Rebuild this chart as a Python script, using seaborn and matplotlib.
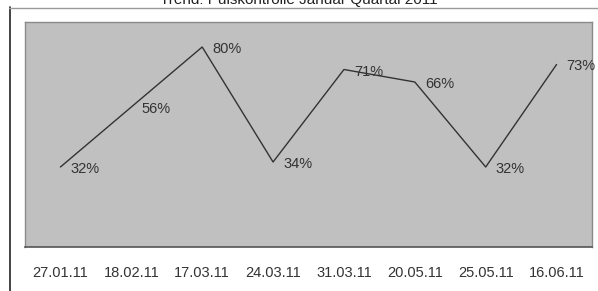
import matplotlib
matplotlib.use("Agg")
import matplotlib.pyplot as plt
from matplotlib.lines import Line2D
import seaborn as sns
import pandas as pd

dates = ["27.01.11", "18.02.11", "17.03.11", "24.03.11", "31.03.11", "20.05.11", "25.05.11", "16.06.11"]
values = [32, 56, 80, 34, 71, 66, 32, 73]
labels = ["32%", "56%", "80%", "34%", "71%", "66%", "32%", "73%"]
title = "Trend: Pulskontrolle Januar Quartal 2011"

sns.set_style("white")
plt.rcParams["font.family"] = ["Liberation Sans", "DejaVu Sans"]

W, H = 598, 291
fig = plt.figure(figsize=(W / 100, H / 100), dpi=100)
ax = fig.add_axes([25 / W, (H - 247) / H, 567 / W, 225 / H])

df = pd.DataFrame({"date": dates, "value": values})
df["pos"] = range(len(dates))
sns.lineplot(data=df, x="pos", y="value", ax=ax, color="#333333", linewidth=1.0)

ax.set_facecolor("#C0C0C0")
ax.set_xlim(-0.5, len(dates) - 0.5)
ax.set_ylim(0, 90)
ax.set_xlabel("")
ax.set_ylabel("")
ax.set_yticks([])

ax.set_xticks([i - 0.5 for i in range(len(dates) + 1)])
ax.set_xticklabels([])
ax.set_xticks(range(len(dates)), minor=True)
ax.set_xticklabels(dates, minor=True)
ax.tick_params(axis="x", which="major", length=4, width=1, color="#333333", direction="out")
ax.tick_params(axis="x", which="minor", length=0, pad=14, labelsize=10.5, labelcolor="#333333")

for s in ["top", "right", "left"]:
    ax.spines[s].set_color("#8a8a8a")
    ax.spines[s].set_linewidth(1.0)
ax.spines["bottom"].set_color("#555555")
ax.spines["bottom"].set_linewidth(1.2)

for i, (v, lab) in enumerate(zip(values, labels)):
    ax.annotate(lab, xy=(i, v), xytext=(10, -2), textcoords="offset pixels",
                ha="left", va="center", fontsize=10.5, color="#333333")

fig.add_artist(Line2D([9.5 / W, 9.5 / W], [0, 1 - 7 / H], transform=fig.transFigure,
                      color="#222222", linewidth=1.2))
fig.add_artist(Line2D([9 / W, 1], [1 - 7.5 / H, 1 - 7.5 / H], transform=fig.transFigure,
                      color="#9a9a9a", linewidth=1.0))

fig.text(0.5, 1 - 4 / H, title, ha="center", va="baseline", fontsize=11, color="#222222")

fig.savefig("out.png", dpi=100, facecolor="white")
